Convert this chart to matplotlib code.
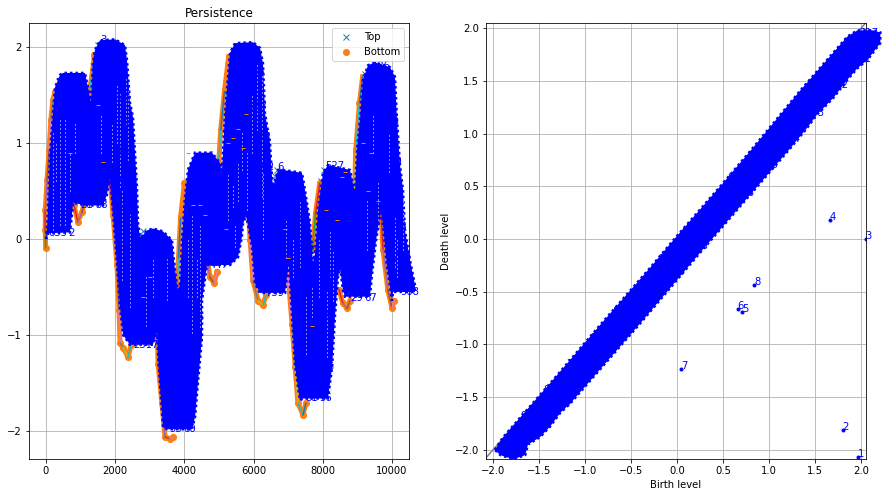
import numpy as np
import matplotlib
matplotlib.use('Agg')
import matplotlib.pyplot as plt

nan = np.nan

# outline of the blue mass of labels, left panel
upper_x = [0, 45, 116, 260, 405, 491, 1127, 1214, 1300, 1358, 1416, 1561, 1994, 2283, 2341, 2428, 2514, 2572, 2630, 2659,
           2717, 2803, 2919, 3092, 3381, 3641, 3728, 3815, 3873, 3930, 4017, 4104, 4306, 4797, 5029, 5086, 5173, 5318,
           5462, 5982, 6185, 6271, 6329, 6474, 6531, 6560, 6705, 6849, 7398, 7485, 7630, 7716, 7774, 7861, 8005, 8150,
           8786, 8930, 8988, 9075, 9161, 9306, 9508, 9942, 10086, 10144, 10231, 10317, 10375, 10520, 10664]
upper_y = [0.0, 0.20, 0.90, 1.58, 1.71, 1.73, 1.73, 1.58, 1.42, 1.83, 1.97, 2.07, 2.08, 2.02, 1.86, 1.42, 1.27, 0.90, 0.54, 0.17,
           0.02, 0.04, 0.09, 0.11, 0.08, -0.01, -0.32, -0.56, -0.46, -0.01, 0.44, 0.72, 0.90, 0.90, 0.79, 0.69, 1.31, 1.94,
           2.04, 2.05, 1.99, 1.83, 1.31, 1.00, 0.65, 0.54, 0.72, 0.72, 0.69, 0.51, 0.17, -0.25, -0.15, 0.30, 0.69, 0.77,
           0.72, 0.48, 0.93, 1.24, 1.66, 1.81, 1.84, 1.79, 1.69, 1.24, 0.77, 0.51, 0.09, -0.22, -0.48]
lower_x = [0, 60, 690, 750, 780, 1130, 1650, 1760, 1850, 1940, 2050, 2140, 2230, 2430, 3090, 3180, 3210, 3240, 3380, 3500,
           4220, 4310, 4390, 4510, 4510, 4650, 5320, 5550, 5660, 5690, 5780, 5840, 5950, 6040, 6180, 6910, 6960, 7020,
           7110, 7200, 7340, 7430, 8150, 8270, 8350, 8440, 8500, 8580, 8640, 9360, 9420, 9540, 9680, 9740, 9850, 10000,
           10030, 10660]
lower_y = [0.0, 0.06, 0.07, 0.25, 0.38, 0.35, 0.35, 0.46, 0.64, 0.27, -0.25, -0.71, -1.0, -1.10, -1.10, -1.0, -0.93, -1.21, -1.96, -1.98,
           -1.98, -1.85, -1.50, -1.02, -0.64, -0.27, -0.27, -0.19, 0.02, 0.15, 0.25, 0.15, -0.08, -0.46, -0.56, -0.56, -0.40, -0.27,
           -0.81, -1.33, -1.68, -1.66, -1.66, -1.33, -0.81, -0.40, -0.30, -0.53, -0.60, -0.60, -0.38, -0.01, 0.30, 0.15, -0.27, -0.64,
           -0.55, -0.55]

# bottoms, nan breaks the runs
bottom_x = [-10, -20, -20, 30, 90, 140, 200, 260, nan,
            640, 720, 810, 920, 1040, 1160, nan,
            1200, 1260, 1350, 1400, nan,
            1850, 1940, 2050, 2110, 2140, 2230, 2370, 2460, nan,
            3210, 3240, 3350, 3440, 3580, 3670, nan,
            3770, 3830, 3890, 4000, nan,
            4680, 4740, 4860, 4940, nan,
            4990, 5050, 5160, 5280, nan,
            5690, 5810, 5900, 5980, 6130, 6270, 6360, nan,
            7700, 7790, 7910, nan,
            6990, 7110, 7200, 7280, 7430, 7510, nan,
            8470, 8580, 8700, 8790, nan,
            8920, 8950, 9060, 9150, nan,
            9680, 9740, 9880, 10000, 10060]
bottom_y = [-0.09, 0.09, 0.30, 0.61, 0.93, 1.24, 1.45, 1.53, nan,
            0.82, 0.56, 0.35, 0.18, 0.28, 0.46, nan,
            1.34, 1.55, 1.76, 1.92, nan,
            0.61, 0.25, -0.27, -0.74, -1.08, -1.13, -1.23, -1.10, nan,
            -0.95, -1.30, -1.71, -2.06, -2.08, -2.06, nan,
            -0.64, -0.19, 0.23, 0.58, nan,
            -0.25, -0.40, -0.46, -0.34, nan,
            0.79, 1.14, 1.55, 1.90, nan,
            0.96, 0.51, -0.01, -0.43, -0.64, -0.69, -0.58, nan,
            -0.11, 0.27, 0.58, nan,
            -0.35, -0.88, -1.33, -1.71, -1.83, -1.71, nan,
            -0.53, -0.67, -0.72, -0.64, nan,
            0.51, 0.93, 1.42, 1.69, nan,
            0.27, -0.11, -0.53, -0.72, -0.64]

top_x = [60, 120, 180, 240, 300, 370, 1300, 1370, 1430, 1490, 2740, 2800, 3900, 3960, 4050, 4150,
         5090, 5160, 5250, 6560, 6620, 6680, 7900, 7960, 8030, 9030, 9130, 9230]
top_y = [0.45, 0.72, 1.05, 1.30, 1.50, 1.65, 1.45, 1.80, 1.92, 2.02, 0.02, 0.08, 0.05, 0.30, 0.50, 0.72,
         0.75, 1.30, 1.80, 0.56, 0.66, 0.72, 0.45, 0.60, 0.72, 1.05, 1.50, 1.72]

# bottoms showing through the digits
speck_x = [4250, 4450, 4600, 5250, 5400, 5550, 5700, 5780, 4100, 1650, 700, 1500, 2800, 3000, 7000, 8100, 8400, 8550, 8650,
           6900, 9150, 9400, 9600, 9300, 7700, 5200]
speck_y = [0.35, 0.36, 0.25, 1.00, 1.05, 1.15, 0.95, 1.30, 0.90, 0.80, 0.90, 1.40, -0.60, -0.40, -0.20, 0.30, 0.20, 0.65, 0.70,
           0.10, 1.00, 0.90, 0.40, 0.50, -0.90, 0.10]

# ranks that can still be read round the mass
label_x = [1560, 60, 640, 3000, 6680, 8070, 9420, 2510, 980, 1420, 3580, 3980, 4740, 6330, 7490, 7900, 8790, 9200, 10230,
           1850, 1880, 1940, 2020, 2080, 2140, 4020, 3930, 3870, 3760, 5780, 5840, 5980, 6040, 6910, 7050, 7230,
           7770, 7860, 7920, 9590, 9650, 9740, 9800, 9880, 10000, 10120]
label_y = [2.04, 0.03, 0.03, 0.01, 0.72, 0.73, 1.77, -1.13, 0.32, 0.32, -2.01, -2.01, -0.30, -0.59, -1.69, -1.69, -0.64, -0.64, -0.58,
           1.76, 1.45, 1.19, 0.88, 0.56, 0.25, -0.84, -1.16, -1.52, -1.83, 1.71, 1.34, 1.03, 0.72, 0.51, 0.20, -0.11,
           -1.36, -0.84, -0.43, 1.55, 1.19, 0.77, 0.46, 0.09, -0.22, -0.48]
label_rank = ['3', '633', '2', '7', '6', '527', '136', '2317', '21', '38', '95', '60', '447', '739', '81', '56', '29', '67', '908',
              '142', '275', '318', '496', '583', '704', '826', '937', '618', '459', '233', '367', '541', '692', '778', '864', '925',
              '356', '481', '529', '167', '248', '309', '412', '635', '756', '887']

# white gaps between the digits, left panel
gap_x = [200, 400, 550, 2140, 2370, 2200, 2430, 3500, 4220, 4450, 5400, 5460, 5660, 6100, 6240, 6270, 7340, 7690, 8120, 8290,
         9280, 10090, 10320, 300, 700, 850, 1600, 1900, 2050, 2300, 2900, 3100, 4100, 4350, 5250, 5550, 5800, 5950,
         6950, 7150, 7500, 7900, 8200, 9450, 9600, 9900, 10150]
gap_lo = [0.09, 0.15, 0.15, 0.54, 0.82, -0.43, -0.71, -0.63, -0.98, -0.92, 0.33, -0.08, 0.72, 1.14, 0.44, 0.0, -0.29, -0.81, -1.23, -0.64,
          -0.11, -0.29, -0.11, 0.6, 0.5, 0.9, 0.9, 0.8, 1.0, 1.2, -0.9, -0.6, -0.6, -0.6, 0.2, 0.4, 0.3, 0.9,
          -0.2, -0.4, -1.2, -0.6, -0.4, 0.9, 0.2, 0.7, -0.4]
gap_hi = [1.13, 1.24, 1.24, 1.52, 1.55, 0.51, 0.27, -0.19, 0.27, 0.17, 0.58, 0.17, 1.14, 1.83, 1.72, 0.69, 0.41, -0.50, -0.53, -0.11,
          0.41, 0.23, 0.41, 1.0, 0.9, 1.2, 1.3, 1.2, 1.6, 1.7, -0.4, -0.2, 0.0, -0.2, 0.7, 0.8, 0.9, 1.5,
          0.2, 0.0, -0.6, 0.0, 0.1, 1.3, 0.6, 1.1, 0.0]

# right panel
rank_birth = [1.97, 1.80, 2.05, 1.66, 0.71, 0.66, 0.04, 0.84]
rank_death = [-2.07, -1.81, 0.0, 0.18, -0.69, -0.66, -1.23, -0.44]

band_x = [-1.98, -1.89, -1.71, -1.52, -1.35, -0.84, -0.29, 0.0, 0.47, 0.83, 1.01, 1.34, 1.63, 1.85, 1.96, 2.13, 2.21,
          2.21, 2.07, 1.96, 1.85, 1.70, 1.52, 1.41, 1.23, 0.25, -0.40, -1.00, -1.16, -1.27, -1.38, -1.49, -1.62, -1.65, -1.78, -1.92]
band_y = [-2.00, -1.88, -1.70, -1.51, -1.34, -0.82, -0.27, 0.03, 0.50, 0.87, 1.06, 1.41, 1.70, 1.92, 1.98, 1.98, 1.96,
          1.86, 1.70, 1.62, 1.51, 1.34, 1.18, 1.05, 0.86, -0.13, -0.80, -1.40, -1.56, -1.65, -1.78, -1.88, -1.95, -2.05, -2.09, -2.05]

edge_birth = [-1.70, -1.45, -1.20, -0.95, -0.70, -0.45, -0.20, 0.05, 0.30, 0.55, 0.80, 1.05, 1.30, 1.55, 1.80, 1.98,
              -1.65, -1.36, -1.11, -0.86, -0.62, -0.37, -0.12, 0.13, 0.38, 0.63, 0.89, 1.14, 1.39, 1.65, 1.90]
edge_death = [-1.71, -1.46, -1.21, -0.97, -0.72, -0.47, -0.22, 0.03, 0.28, 0.55, 0.80, 1.05, 1.30, 1.56, 1.82, 1.93,
              -1.87, -1.58, -1.33, -1.08, -0.84, -0.59, -0.34, -0.09, 0.16, 0.41, 0.67, 0.92, 1.17, 1.43, 1.68]
edge_rank = ['911', '804', '772', '693', '587', '466', '354', '248', '129', '873', '762', '651', '540', '439', '328', '217',
             '985', '874', '763', '652', '541', '430', '319', '208', '197', '286', '375', '464', '553', '642', '731']

fig = plt.figure(figsize=(890 / 72, 496 / 72), dpi=72)
ax1 = fig.add_axes([29 / 890, 37 / 496, 380 / 890, 436 / 496])
ax2 = fig.add_axes([486 / 890, 37 / 496, 380 / 890, 436 / 496])

ax1.plot(top_x, top_y, 'x', label='Top')
ax1.plot(bottom_x, bottom_y, 'o', label='Bottom')
ax1.plot(bottom_x, bottom_y, '-', color='C1', lw=5)
for i in range(len(bottom_x) - 1):
    ax1.plot(bottom_x[i:i + 2], bottom_y[i:i + 2], '-')
ax1.fill(upper_x + lower_x[::-1], upper_y + lower_y[::-1], color='#0000ff', lw=0, zorder=3, clip_on=False)
# rough edge, the digits never make a clean outline
ax1.fill(upper_x + lower_x[::-1], upper_y + lower_y[::-1], fill=False, edgecolor='#0000ff', lw=2.5,
         linestyle=(0, (1, 1.2)), zorder=3, clip_on=False)
ax1.vlines(gap_x, gap_lo, gap_hi, color='white', lw=1, linestyles=(0, (1, 3)), zorder=3.5)
ax1.plot(speck_x, speck_y, '_', color='C1', ms=4, zorder=3.6)
for x, y, r in zip(label_x, label_y, label_rank):
    ax1.text(x, y, r, color='#0000ff', zorder=4)
ax1.set_xlim(-491, 10491)
ax1.set_ylim(-2.29, 2.25)
ax1.set_title('Persistence')
ax1.grid(True)
ax1.legend(loc='upper right')

ax2.plot([-2.087, 2.054], [-2.087, 2.054], color='gray')
ax2.plot(rank_birth, rank_death, '.', color='#0000ff')
ax2.fill(band_x, band_y, color='#0000ff', lw=0, zorder=3, clip_on=False)
ax2.fill(band_x, band_y, fill=False, edgecolor='#0000ff', lw=2.5, linestyle=(0, (1, 1.2)), zorder=3, clip_on=False)
for i in range(len(rank_birth)):
    ax2.text(rank_birth[i], rank_death[i], str(i + 1), color='#0000ff', zorder=4)
for x, y, r in zip(edge_birth, edge_death, edge_rank):
    ax2.text(x, y, r, color='#0000ff', zorder=4)
ax2.set_xlim(-2.076, 2.054)
ax2.set_ylim(-2.087, 2.05)
ax2.set_xlabel('Birth level')
ax2.set_ylabel('Death level')
ax2.grid(True)

fig.savefig('out.png', dpi=72)
